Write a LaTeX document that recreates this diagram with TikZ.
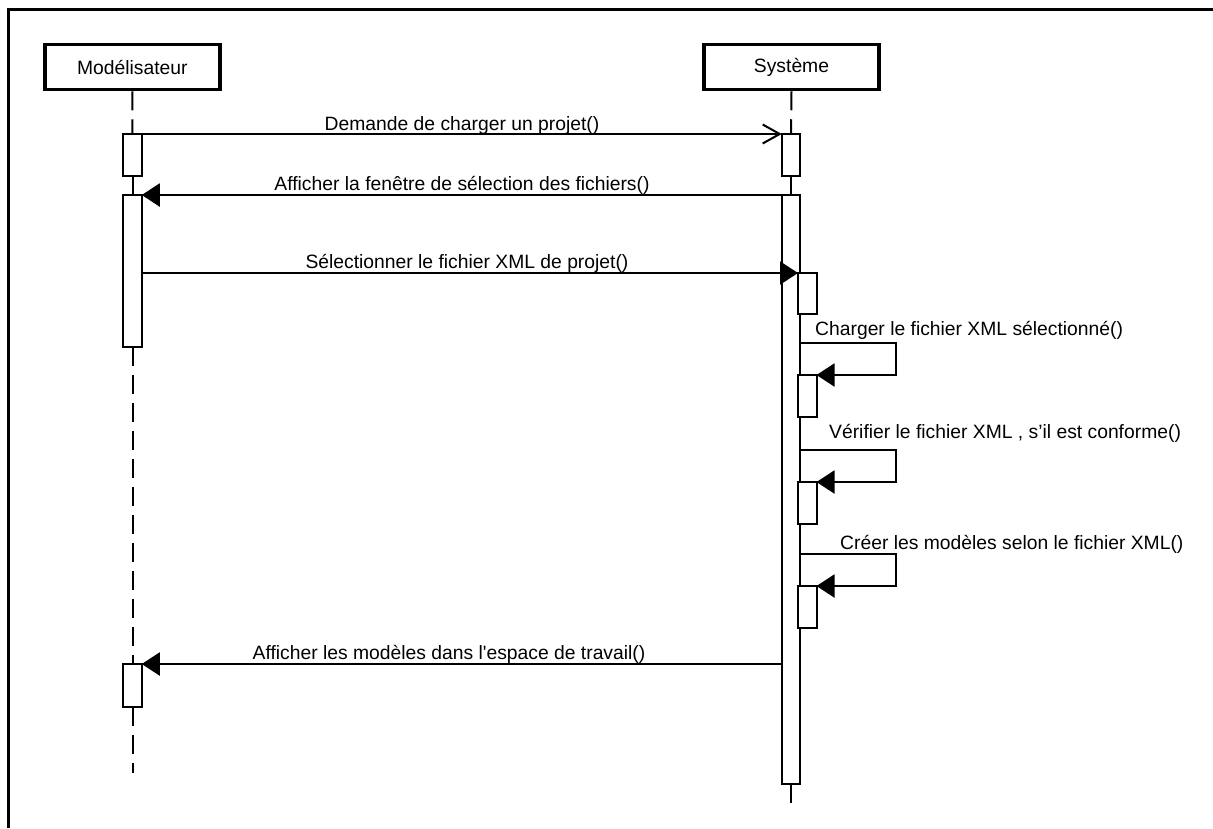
\documentclass[tikz,border=0pt]{standalone}
\usepackage{fontspec}
\newfontfamily\labelfont{Liberation Sans}
\usetikzlibrary{arrows.meta}
\begin{document}
\begin{tikzpicture}[x=1pt,y=-1pt,
  txt/.style={font=\labelfont\fontsize{19.3}{22}\selectfont},
  actor/.style={txt, draw, line width=3.5pt, fill=white, minimum width=175pt,
    minimum height=45pt, inner sep=0pt},
  bar/.style={draw, line width=2pt, fill=white, minimum width=16.5pt,
    inner sep=0pt, anchor=north},
  lifeline/.style={line width=2pt, dash pattern=on 19pt off 9pt},
  call/.style={line width=2pt, -{Triangle[length=18pt,width=23pt]}},
  send/.style={line width=2pt, -{Straight Barb[length=17pt,width=19pt]}},
  lbl/.style={txt, inner sep=0pt, anchor=base},
  lblw/.style={lbl, anchor=base west},
]
\useasboundingbox[fill=white] (0,0) rectangle (1213,828);

% frame
\draw[line width=3pt] (8.5,828) -- (8.5,9.5) -- (1213,9.5);

% participants
\node[actor] (mod) at (132.3,67) {Modélisateur};
\node[actor] (sys) at (791.5,67) {Système};
\coordinate (modend) at (132.5,773);
\coordinate (sysend) at (791,803);

% activation bars (positions only, drawn after the lifelines)
\path
  node[bar, minimum height=40pt]  (mA) at (132.5,134) {}
  node[bar, minimum height=150pt] (mB) at (132.5,195) {}
  node[bar, minimum height=41pt]  (mC) at (132.5,664) {}
  node[bar, minimum height=40pt]  (sA) at (791,134) {}
  node[bar, minimum height=587pt] (sB) at (791,195) {}
  node[bar, minimum height=39pt]  (n1) at (807.25,273) {}
  node[bar, minimum height=40pt]  (n2) at (807.25,375) {}
  node[bar, minimum height=40pt]  (n3) at (807.25,482) {}
  node[bar, minimum height=40pt]  (n4) at (807.25,586) {};

% lifelines
\draw[lifeline] (mod.south) -- (mA.north);
\draw[lifeline] (mA.south) -- (mB.north);
\draw[lifeline] (mB.south) -- (mC.north);
\draw[lifeline] (mC.south) -- (modend);
\draw[lifeline] (sys.south) -- (sA.north);
\draw[lifeline] (sA.south) -- (sB.north);
\draw[lifeline] (sB.south) -- (sysend);

% redraw bars on top of the lifelines
\foreach \b in {mA,mB,mC,sA,sB,n1,n2,n3,n4}
  \draw[line width=2pt, fill=white] (\b.north west) rectangle (\b.south east);

% messages
\draw[send] (mA.north east) -- (sA.north west);
\draw[call] (sB.north west) -- (mB.north east);
\draw[call] (mB.east |- n1.north) -- (n1.north west);
\draw[call] (sB.east |- 0,343) -- ++(96,0) |- (n2.north east);
\draw[call] (sB.east |- 0,450) -- ++(96,0) |- (n3.north east);
\draw[call] (sB.east |- 0,554) -- ++(96,0) |- (n4.north east);
\draw[call] (sB.west |- mC.north) -- (mC.north east);

% message labels
\node[lbl]  (l1) at (462,130) {Demande de charger un projet()};
\node[lbl]  (l2) at (462,190) {Afficher la fenêtre de sélection des fichiers()};
\node[lbl]  (l3) at (467,268) {Sélectionner le fichier XML de projet()};
\node[lblw] (l4) at (815,335) {Charger le fichier XML sélectionné()};
\node[lblw] (l5) at (829,438) {Vérifier le fichier XML , s’il est conforme()};
\node[lblw] (l6) at (840,549) {Créer les modèles selon le fichier XML()};
\node[lbl]  (l7) at (449,659) {Afficher les modèles dans l'espace de travail()};
\end{tikzpicture}
\end{document}
